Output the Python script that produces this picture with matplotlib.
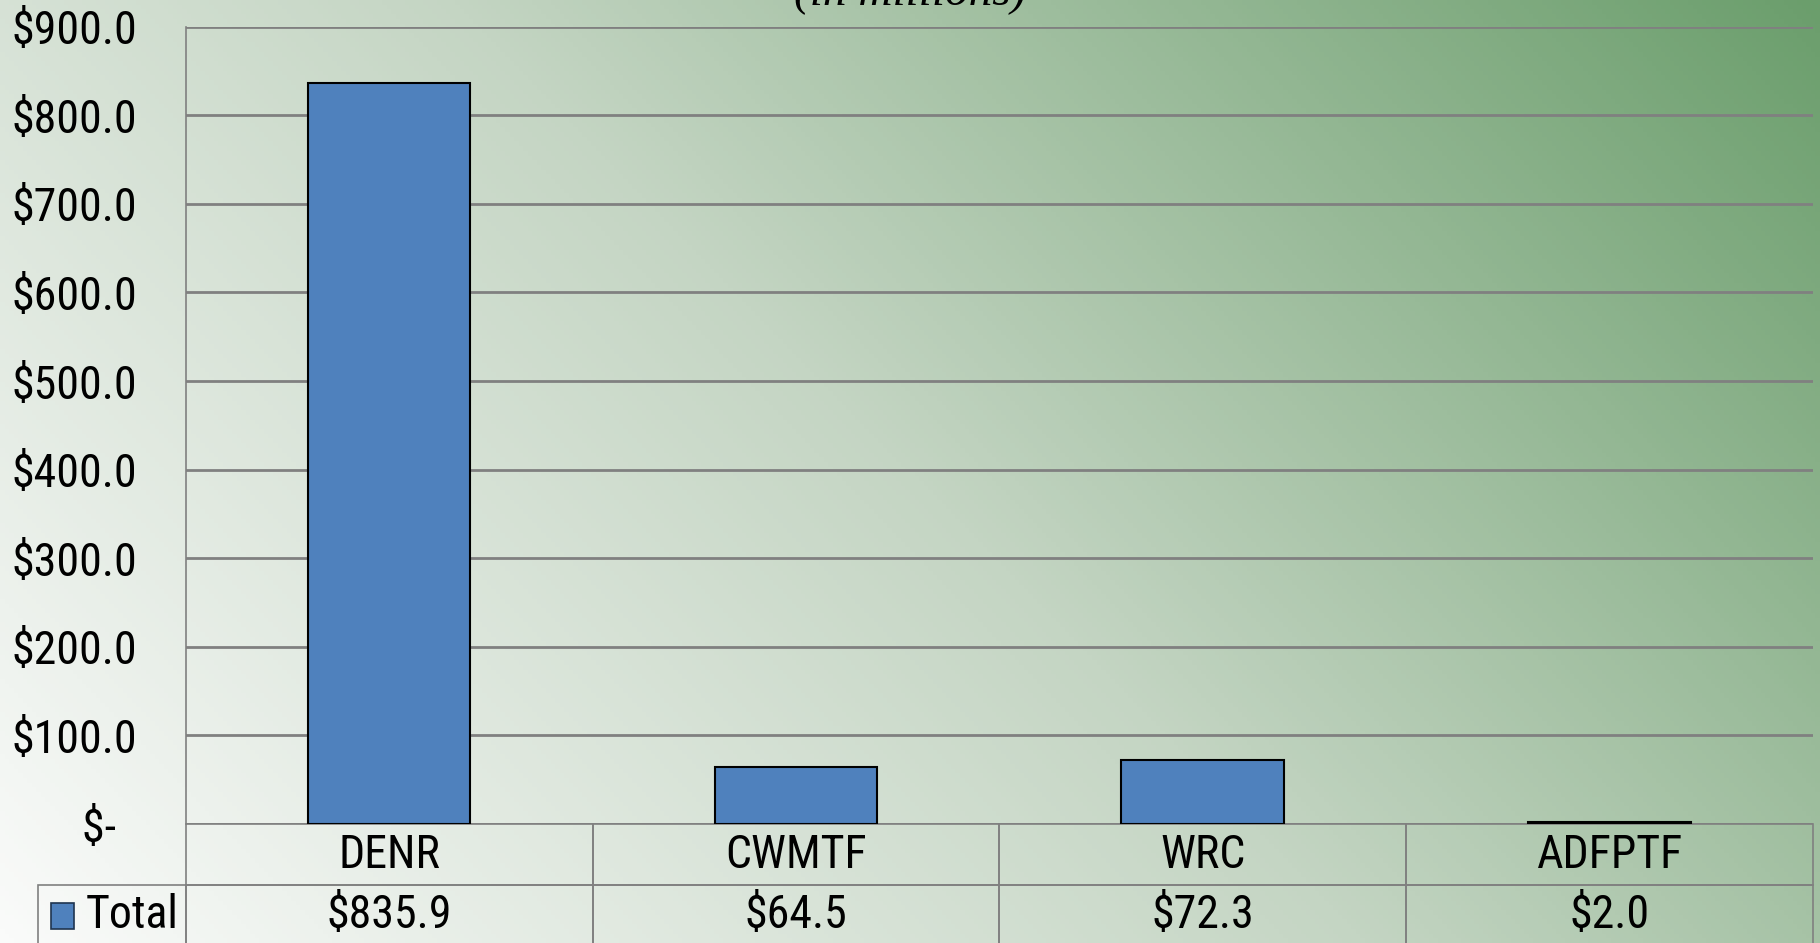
import numpy as np
import matplotlib
matplotlib.use('Agg')
import matplotlib.pyplot as plt
from matplotlib import font_manager
from matplotlib.colors import LinearSegmentedColormap
from matplotlib.patches import Rectangle
from matplotlib.ticker import FuncFormatter

# data (in millions)
categories = ['DENR', 'CWMTF', 'WRC', 'ADFPTF']
totals = [835.9, 64.5, 72.3, 2.0]
series_name = 'Total'
yticks = [0, 100, 200, 300, 400, 500, 600, 700, 800, 900]

# narrow sans if one is around
have = {f.name for f in font_manager.fontManager.ttflist}
narrow = [n for n in ['Liberation Sans Narrow', 'DejaVu Sans Condensed', 'Roboto Condensed',
                      'Open Sans Condensed', 'Noto Sans Condensed'] if n in have]
if narrow:
    plt.rcParams['font.family'] = [narrow[0], 'DejaVu Sans']
    fs = 33
else:
    plt.rcParams['font.family'] = ['Liberation Sans', 'DejaVu Sans']
    fs = 27

fig = plt.figure(figsize=(18.2, 9.43), dpi=100)

# gradient background, pale bottom-left to green top-right
bg = fig.add_axes([0, 0, 1, 1], zorder=-10)
gx, gy = np.meshgrid(np.linspace(0, 1, 400), np.linspace(1, 0, 200))
t = (0.6 * gx + 0.3 * gy) / 0.9
cmap = LinearSegmentedColormap.from_list('bg', ['#fafbfa', '#c4d5c3', '#6b9e6c'])
bg.imshow(t, cmap=cmap, aspect='auto', extent=[0, 1, 0, 1])
bg.axis('off')

ax = fig.add_axes([0.1020, 0.1261, 0.8942, 0.8456])
ax.set_facecolor('none')
x = np.arange(len(categories))
ax.bar(x, totals, width=0.4, color='#4f81bd', edgecolor='black', linewidth=1.5, zorder=3)
ax.set_xlim(-0.5, len(categories) - 0.5)
ax.set_ylim(0, 900)
ax.set_yticks(yticks)
ax.yaxis.set_major_formatter(FuncFormatter(lambda v, p: '$-  ' if v == 0 else f'${v:,.1f}'))
ax.tick_params(axis='y', length=0, pad=35, labelsize=fs)
ax.set_xticks([])
ax.grid(axis='y', color='#808080', linewidth=2.0, zorder=1)
for s in ['top', 'right', 'bottom']:
    ax.spines[s].set_visible(False)
ax.spines['left'].set_color('#808080')
ax.spines['left'].set_linewidth(1.2)

# data table under the axis: first column holds the legend key
rows = [[''] + categories,
        [series_name] + [f'${v:,.1f}' for v in totals]]
tab = ax.table(cellText=rows, cellLoc='center',
               colWidths=[0.0906] + [0.25] * len(categories),
               bbox=[-0.0906, -0.1528, 1.0906, 0.1528])
tab.auto_set_font_size(False)
for (r, c), cell in tab.get_celld().items():
    cell.set_facecolor('none')
    cell.set_edgecolor('#808080')
    cell.set_linewidth(1.2)
    cell.get_text().set_fontsize(fs)
    if c == 0:
        if r == 0:
            cell.visible_edges = ''
        else:
            cell.get_text().set_horizontalalignment('right')
            cell.PAD = 0.05
ax.add_patch(Rectangle((-0.0827, -0.131), 0.0143, 0.032, transform=ax.transAxes,
                       facecolor='#4f81bd', edgecolor='#1f3550', linewidth=1.2,
                       clip_on=False, zorder=5))

fig.text(0.5, 0.9947, '(in millions)', ha='center', va='baseline',
         family='Liberation Serif', style='italic', fontsize=34)

fig.savefig('out.png', dpi=100)
